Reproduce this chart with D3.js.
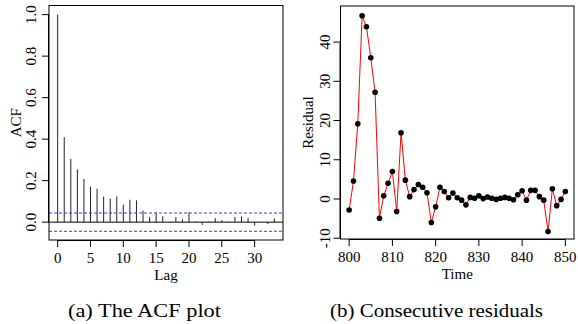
<!DOCTYPE html>
<html>
<head>
<meta charset="utf-8">
<script src="https://cdn.jsdelivr.net/npm/d3@7"></script>
<style>
  body { margin: 0; background: #fff; }
  svg text { font-family: "Liberation Serif", "Times New Roman", serif; fill: #000; }
</style>
</head>
<body>
<svg id="chart" width="578" height="324"></svg>
<script>
// ACF values, lag 0..33
var acfLags = d3.range(0, 34);
var acfValues = [1.0, 0.41, 0.305, 0.255, 0.208, 0.171, 0.161, 0.123, 0.113, 0.124,
  0.084, 0.108, 0.105, 0.055, 0.024, 0.047, 0.029, -0.004, 0.024, 0.014,
  0.048, 0.004, -0.013, 0.003, 0.019, 0.009, 0.002, 0.025, 0.028, 0.021,
  -0.017, -0.002, -0.009, 0.018];
var acfBound = 0.044;
var acfYTicks = [0.0, 0.2, 0.4, 0.6, 0.8, 1.0];
var acfXTicks = [0, 5, 10, 15, 20, 25, 30];

// residuals, time 800..850
var resTime = d3.range(800, 851);
var resValues = [-2.8, 4.6, 19.2, 46.7, 43.9, 36.0, 27.2, -4.9, 0.8, 4.0,
  7.0, -3.2, 16.9, 4.8, 0.6, 2.4, 3.7, 3.0, 1.6, -6.0,
  -2.0, 3.0, 1.9, 0.3, 1.5, 0.3, -0.3, -1.5, 0.4, 0.2,
  0.8, 0.1, 0.5, 0.2, -0.1, 0.2, 0.4, 0.2, -0.2, 1.1,
  2.1, -0.3, 2.2, 2.2, 0.6, -0.3, -8.3, 2.6, -1.7, -0.1, 1.9];
var resYTicks = [-10, 0, 10, 20, 30, 40];
var resXTicks = [800, 810, 820, 830, 840, 850];

var svg = d3.select("#chart");
var fs = "15px";

// helper to draw an R-style box + axes
function drawFrame(g, x, y, xTicks, yTicks, xFmt, yFmt, xLab, yLab, yLabX, yTickX) {
  var x0 = x.range()[0], x1 = x.range()[1];
  var y0 = y.range()[0], y1 = y.range()[1];
  g.append("rect")
    .attr("x", x0).attr("y", y1)
    .attr("width", x1 - x0).attr("height", y0 - y1)
    .attr("fill", "none").attr("stroke", "#000").attr("stroke-width", 1);

  // x axis
  var xa = g.append("g");
  xa.append("line")
    .attr("x1", x(xTicks[0])).attr("x2", x(xTicks[xTicks.length - 1]))
    .attr("y1", y0 + 0.5).attr("y2", y0 + 0.5)
    .attr("stroke", "#000");
  xa.selectAll("line.t").data(xTicks).enter().append("line")
    .attr("class", "t")
    .attr("x1", function(d){ return x(d); }).attr("x2", function(d){ return x(d); })
    .attr("y1", y0).attr("y2", y0 + 7)
    .attr("stroke", "#000");
  xa.selectAll("text").data(xTicks).enter().append("text")
    .attr("x", function(d){ return x(d); })
    .attr("y", y0 + 23)
    .attr("text-anchor", "middle")
    .style("font-size", fs)
    .text(xFmt);

  // y axis
  var ya = g.append("g");
  ya.append("line")
    .attr("x1", x0 - 0.5).attr("x2", x0 - 0.5)
    .attr("y1", y(yTicks[0])).attr("y2", y(yTicks[yTicks.length - 1]))
    .attr("stroke", "#000");
  ya.selectAll("line.t").data(yTicks).enter().append("line")
    .attr("class", "t")
    .attr("x1", x0).attr("x2", x0 - 7)
    .attr("y1", function(d){ return y(d); }).attr("y2", function(d){ return y(d); })
    .attr("stroke", "#000");
  ya.selectAll("text").data(yTicks).enter().append("text")
    .attr("transform", function(d){ return "translate(" + yTickX + "," + y(d) + ") rotate(-90)"; })
    .attr("text-anchor", "middle")
    .attr("dy", "0.35em")
    .style("font-size", fs)
    .text(yFmt);

  g.append("text")
    .attr("x", (x0 + x1) / 2).attr("y", y0 + 40)
    .attr("text-anchor", "middle")
    .style("font-size", fs)
    .text(xLab);
  g.append("text")
    .attr("transform", "translate(" + yLabX + "," + (y0 + y1) / 2 + ") rotate(-90)")
    .attr("text-anchor", "middle")
    .attr("dy", "0.35em")
    .style("font-size", fs)
    .text(yLab);
}

// ---------- (a) ACF ----------
var xA = d3.scaleLinear().domain([-1.32, 34.32]).range([49, 283]);
var yA = d3.scaleLinear().domain([-0.086, 1.044]).range([240, 5.5]);
var gA = svg.append("g");

gA.append("line")
  .attr("x1", xA.range()[0]).attr("x2", xA.range()[1])
  .attr("y1", yA(0)).attr("y2", yA(0))
  .attr("stroke", "#000").attr("stroke-width", 1);

gA.selectAll("line.bar").data(acfLags).enter().append("line")
  .attr("class", "bar")
  .attr("x1", function(d){ return xA(d); }).attr("x2", function(d){ return xA(d); })
  .attr("y1", yA(0))
  .attr("y2", function(d, i){ return yA(acfValues[i]); })
  .attr("stroke", "#222").attr("stroke-width", 1);

[acfBound, -acfBound].forEach(function(b){
  gA.append("line")
    .attr("x1", xA.range()[0]).attr("x2", xA.range()[1])
    .attr("y1", yA(b)).attr("y2", yA(b))
    .attr("stroke", "#3838f0").attr("stroke-width", 1)
    .attr("stroke-dasharray", "3,2");
});

drawFrame(gA, xA, yA, acfXTicks, acfYTicks,
  function(d){ return d; }, function(d){ return d.toFixed(1); },
  "Lag", "ACF", 16, 31);

gA.append("text")
  .attr("x", 68).attr("y", 317)
  .attr("textLength", 153).attr("lengthAdjust", "spacingAndGlyphs")
  .style("font-size", "19px")
  .text("(a) The ACF plot");

// ---------- (b) residuals ----------
var xB = d3.scaleLinear().domain([798, 852]).range([340.5, 574]);
var yB = d3.scaleLinear().domain([-10.2, 49.2]).range([239, 6]);
var gB = svg.append("g");

var line = d3.line()
  .x(function(d, i){ return xB(resTime[i]); })
  .y(function(d){ return yB(d); });

gB.append("path")
  .datum(resValues)
  .attr("d", line)
  .attr("fill", "none")
  .attr("stroke", "#ff0000")
  .attr("stroke-width", 1);

gB.selectAll("circle").data(resValues).enter().append("circle")
  .attr("cx", function(d, i){ return xB(resTime[i]); })
  .attr("cy", function(d){ return yB(d); })
  .attr("r", 2.8)
  .attr("fill", "#000");

drawFrame(gB, xB, yB, resXTicks, resYTicks,
  function(d){ return d; }, function(d){ return d; },
  "Time", "Residual", 308, 325);

gB.append("text")
  .attr("x", 330).attr("y", 317)
  .attr("textLength", 213).attr("lengthAdjust", "spacingAndGlyphs")
  .style("font-size", "19px")
  .text("(b) Consecutive residuals");
</script>
</body>
</html>
